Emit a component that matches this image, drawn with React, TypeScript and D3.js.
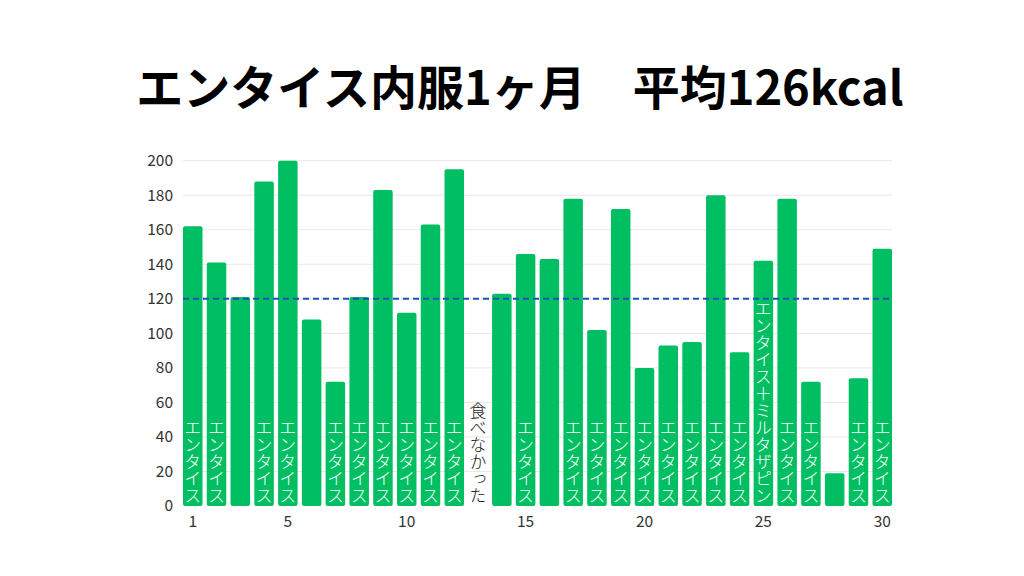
import * as d3 from "d3";

const days = d3.range(1, 31);
const kcal = [162, 141, 121, 188, 200, 108, 72, 121, 183, 112, 163, 195, 0, 123, 146, 143, 178, 102, 172, 80, 93, 95, 180, 89, 142, 178, 72, 19, 74, 149];
const notes = [
  "エンタイス", "エンタイス", "", "エンタイス", "エンタイス", "", "エンタイス", "エンタイス", "エンタイス", "エンタイス",
  "エンタイス", "エンタイス", "食べなかった", "", "エンタイス", "", "エンタイス", "エンタイス", "エンタイス", "エンタイス",
  "エンタイス", "エンタイス", "エンタイス", "エンタイス", "エンタイス＋ミルタザピン", "エンタイス", "エンタイス", "", "エンタイス", "エンタイス",
];
const yTicks = [0, 20, 40, 60, 80, 100, 120, 140, 160, 180, 200];
const xTicks = [1, 5, 10, 15, 20, 25, 30];
const reference = 120;
const title = "エンタイス内服1ヶ月\u3000平均126kcal";

const W = 1024, H = 576;
const font = "'Noto Sans CJK JP', 'Noto Sans', sans-serif";
const green = "#00bf63";

export default function App() {
  const x = d3.scaleBand<number>().domain(days).range([183, 892]).paddingInner(0.18).paddingOuter(0);
  const y = d3.scaleLinear().domain([0, 200]).range([506, 160.7]);

  return (
    <svg width={W} height={H} style={{ position: "absolute", left: 0, top: 0, background: "#fff" }}>
      <text x={520} y={105} textAnchor="middle" fontFamily={font} fontWeight={700} fontSize={47} fill="#000" xmlSpace="preserve">
        {title}
      </text>

      {yTicks.map(t => (
        <g key={t}>
          {t > 0 && <line x1={183} x2={892} y1={y(t)} y2={y(t)} stroke="#e8e8e8" strokeWidth={1} />}
          <text x={173} y={y(t)} dy="0.35em" textAnchor="end" fontFamily={font} fontSize={15.5} fill="#333">{t}</text>
        </g>
      ))}

      {days.map((d, i) => {
        const h = y(0) - y(kcal[i]);
        return kcal[i] > 0 ? (
          <rect key={d} x={x(d)} y={y(kcal[i])} width={x.bandwidth()} height={h} rx={2} fill={green} />
        ) : null;
      })}

      <line x1={183} x2={892} y1={y(reference)} y2={y(reference)} stroke="#1f4fbf" strokeWidth={2} strokeDasharray="6 4" />

      {days.map((d, i) =>
        notes[i] ? (
          <text
            key={d}
            x={(x(d) ?? 0) + x.bandwidth() / 2}
            y={504}
            textAnchor="end"
            fontFamily={font}
            fontSize={17}
            fontWeight={300}
            fill={kcal[i] > 0 ? "#fff" : "#222"}
            style={{ writingMode: "vertical-rl" }}
          >
            {notes[i]}
          </text>
        ) : null
      )}

      {xTicks.map(t => (
        <text key={t} x={(x(t) ?? 0) + x.bandwidth() / 2} y={527} textAnchor="middle" fontFamily={font} fontSize={15.5} fill="#333">{t}</text>
      ))}
    </svg>
  );
}
